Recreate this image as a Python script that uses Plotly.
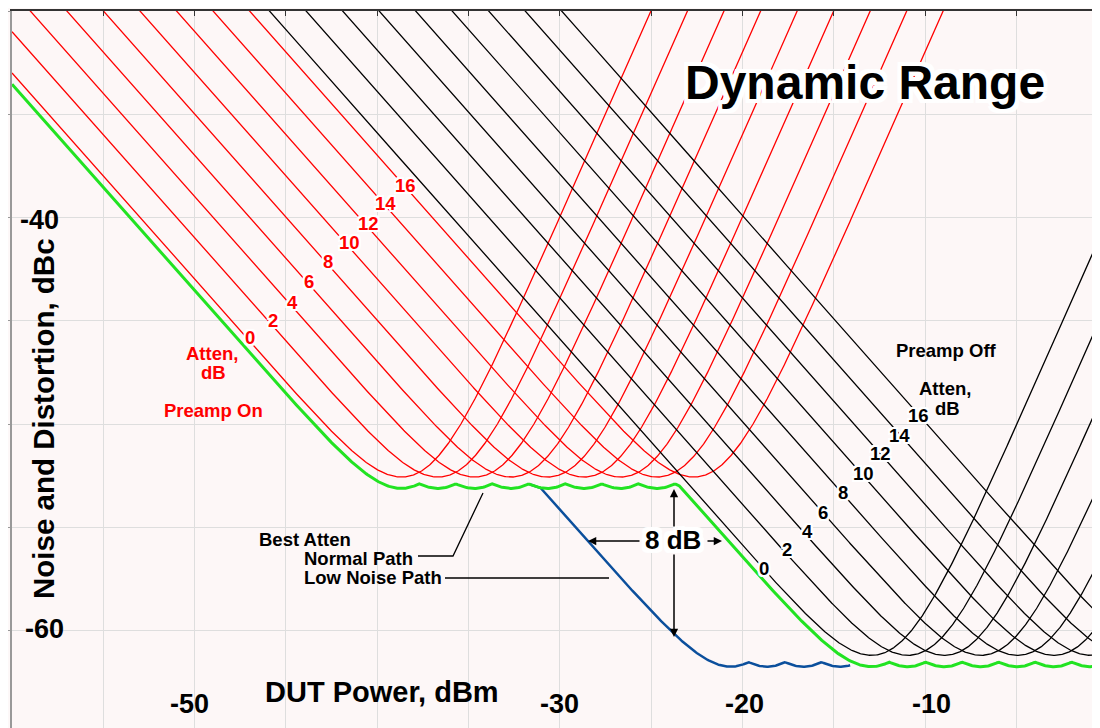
import numpy as np
import plotly.graph_objects as go

# ---------------- values ----------------
ATTEN_DB = [0, 2, 4, 6, 8, 10, 12, 14, 16]
NOISE_ON_DBM = -93.0      # preamp on, 0 dB atten (noise dBc = floor + atten - P)
NOISE_OFF_DBM = -75.9     # preamp off
DIST_ON_DB = 20.0         # distortion dBc = 2*(P - atten) + term
DIST_OFF_DB = -40.1
LOW_NOISE_SHIFT_DB = 7.7  # low noise path = preamp off curves moved left
BEST_OFFSET_DB = 0.55     # best atten traces sit just under the envelope
LOW_NOISE_SPAN = [-31.7, -14.1]

X_TICKS = [-50, -30, -20, -10]
Y_TICKS = [-40, -60]

FONT = 'Liberation Sans, Arial, sans-serif'
RED = '#ff0000'
GREEN = '#22e322'
BLUE = '#0b4f9c'

power = np.arange(-60, 0.001, 0.05)


def curve(p, floor, term, atten):
    noise = floor + atten - p
    dist = 2 * (p - atten) + term
    return 10 * np.log10(10 ** (noise / 10) + 10 ** (dist / 10))


# screen pixel -> data helpers for the text placement
def px(x):
    return -60 + (x - 12) / 18.26


def py(y):
    return -30 - (y - 11) / 20.65


def halo(w):
    pts = [(w, 0), (-w, 0), (0, w), (0, -w), (1, 1), (-1, -1), (1, -1), (-1, 1),
           (w, w), (-w, -w), (w, -w), (-w, w)]
    return ', '.join(f'{a}px {b}px 0 #fff' for a, b in pts)


red = [curve(power, NOISE_ON_DBM, DIST_ON_DB, a) for a in ATTEN_DB]
black = [curve(power, NOISE_OFF_DBM, DIST_OFF_DB, a) for a in ATTEN_DB]
low = [curve(power + LOW_NOISE_SHIFT_DB, NOISE_OFF_DBM, DIST_OFF_DB, a) for a in ATTEN_DB]

green = np.min(np.vstack(red + black), axis=0) - BEST_OFFSET_DB
blue = np.minimum(np.min(red, axis=0), np.min(low, axis=0)) - BEST_OFFSET_DB
blue = np.where((power >= LOW_NOISE_SPAN[0]) & (power <= LOW_NOISE_SPAN[1]), blue, None)

fig = go.Figure()
for y in red:
    fig.add_trace(go.Scatter(x=power, y=y, mode='lines', line=dict(color=RED, width=1.3),
                             hoverinfo='skip', showlegend=False))
for y in black:
    fig.add_trace(go.Scatter(x=power, y=y, mode='lines', line=dict(color='black', width=1.3),
                             hoverinfo='skip', showlegend=False))
fig.add_trace(go.Scatter(x=power, y=blue, mode='lines', line=dict(color=BLUE, width=2.5),
                         hoverinfo='skip', showlegend=False))
fig.add_trace(go.Scatter(x=power, y=green, mode='lines', line=dict(color=GREEN, width=3),
                         hoverinfo='skip', showlegend=False))

ann = []


def label(text, x, y, size=18.5, color='black', shadow=None, anchor='center'):
    ann.append(dict(x=px(x), y=py(y), xref='x', yref='y', text=text, showarrow=False,
                    xanchor=anchor, yanchor='middle',
                    font=dict(family=FONT, size=size, color=color, weight='bold',
                              shadow=shadow or 'none')))


def arrow(x0, y0, x1, y1):
    # tail (x0, y0) -> head (x1, y1)
    ann.append(dict(x=px(x1), y=py(y1), ax=px(x0), ay=py(y0), xref='x', yref='y',
                    axref='x', ayref='y', text='', showarrow=True, arrowhead=2,
                    arrowsize=1.1, arrowwidth=1.5, arrowcolor='black', standoff=0))


# tick labels
for v, x in zip(X_TICKS, [189, 559, 744, 931]):
    label(str(v), x, 704, size=27)
for v, y in zip(Y_TICKS, [220, 629]):
    label(str(v), 18 if v == -40 else 23, y, size=27, anchor='left')

# axis titles + title
label('DUT Power, dBm', 382, 692, size=29)
ann.append(dict(x=px(43), y=py(419), xref='x', yref='y', text='Noise and Distortion, dBc',
                showarrow=False, textangle=-90,
                font=dict(family=FONT, size=29.5, color='black', weight='bold')))
label('Dynamic Range', 865, 82, size=48, shadow=halo(4))

# preamp on labels
label('Atten,', 212, 353, color=RED)
label('dB', 213, 372, color=RED)
label('Preamp On', 213, 410, color=RED)
red_pos = [(250, 337), (273, 320), (292, 302), (309, 281), (328, 261),
           (349, 242), (368, 223), (385, 203), (405, 185)]
for a, (x, y) in zip(ATTEN_DB, red_pos):
    label(str(a), x, y, color=RED, shadow=halo(2))

# preamp off labels
label('Preamp Off', 946, 350)
label('Atten,', 945, 388)
label('dB', 947, 408)
black_pos = [(764, 568), (787, 549), (807, 531), (823, 512), (843, 492),
             (863, 473), (880, 453), (899, 435), (918, 415)]
for a, (x, y) in zip(ATTEN_DB, black_pos):
    label(str(a), x, y, shadow=halo(2))

# best atten callouts
label('Best Atten', 257, 539, anchor='left')
label('Normal Path', 302, 558, anchor='left')
label('Low Noise Path', 302, 577, anchor='left')
label('8 dB', 673, 540, size=26, shadow=halo(4))
arrow(641, 541, 588, 541)
arrow(706, 541, 722, 541)
arrow(674, 528, 674, 489)
arrow(674, 553, 674, 637)

shapes = [
    dict(type='path', xref='x', yref='y', line=dict(color='black', width=1.3),
         path=f'M {px(418)},{py(556)} L {px(453)},{py(556)} L {px(483)},{py(493)}'),
    dict(type='line', xref='x', yref='y', line=dict(color='black', width=1.3),
         x0=px(445), y0=py(578), x1=px(609), y1=py(578)),
]

# page body adds 8px, so the figure is 8px smaller and margins 8px less
fig.update_layout(width=1092, height=720,
                  margin=dict(l=4, r=0, t=3, b=0, autoexpand=False),
                  paper_bgcolor='#fdf8f8', plot_bgcolor='#fdf7f7',
                  annotations=ann, shapes=shapes, showlegend=False)
fig.update_xaxes(range=[-60, px(1100)], side='top', dtick=5, tick0=-60,
                 showgrid=True, gridcolor='#dedede', gridwidth=1, zeroline=False,
                 showline=True, linecolor='#333', linewidth=1.5,
                 ticks='inside', ticklen=5, tickcolor='#333', showticklabels=False)
fig.update_yaxes(range=[py(728), -30], dtick=5, tick0=-60,
                 showgrid=True, gridcolor='#dedede', gridwidth=1, zeroline=False,
                 showline=True, linecolor='#999', linewidth=2,
                 ticks='outside', ticklen=3, tickcolor='#999', showticklabels=False)

fig.write_html('out.html')
